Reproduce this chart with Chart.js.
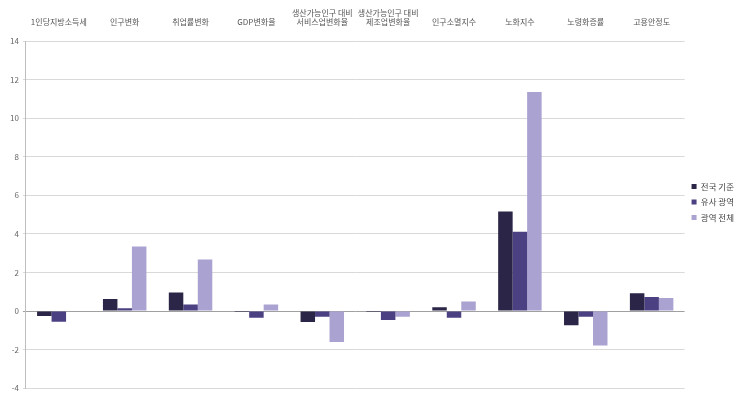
<!DOCTYPE html>
<html>
<head>
<meta charset="utf-8">
<script src="https://cdn.jsdelivr.net/npm/chart.js@4"></script>
<style>
    html, body { margin: 0; padding: 0; background: #fff; }
</style>
</head>
<body>
<canvas id="chart" width="750" height="397"></canvas>
<script>
// ─── Data ───
const categories = [
    '1인당지방소득세',
    '인구변화',
    '취업률변화',
    'GDP변화율',
    ['생산가능인구 대비', '서비스업변화율'],
    ['생산가능인구 대비', '제조업변화율'],
    '인구소멸지수',
    '노화지수',
    '노령화증률',
    '고용안정도',
];
const seriesNames = ['전국 기준', '유사 광역', '광역 전체'];
const nationalValues = [-0.25, 0.63, 0.97, -0.05, -0.56, -0.05, 0.2, 5.17, -0.73, 0.93];
const similarValues = [-0.55, 0.15, 0.34, -0.34, -0.3, -0.46, -0.34, 4.12, -0.3, 0.73];
const allValues = [0, 3.35, 2.68, 0.34, -1.6, -0.3, 0.5, 11.36, -1.78, 0.68];
const yTicks = [-4, -2, 0, 2, 4, 6, 8, 10, 12, 14];

const colors = ['#2b2547', '#4b4182', '#aaa2d0'];
const fontFamily = "'Noto Sans CJK KR', 'Noto Sans', sans-serif";

Chart.defaults.font.family = fontFamily;
Chart.defaults.color = '#666';

new Chart(document.getElementById('chart'), {
    type: 'bar',
    data: {
        labels: categories,
        datasets: [nationalValues, similarValues, allValues].map((values, i) => ({
            label: seriesNames[i],
            data: values,
            backgroundColor: colors[i],
            borderWidth: 0,
            categoryPercentage: 0.66,
            barPercentage: 1.0,
        })),
    },
    options: {
        responsive: false,
        animation: false,
        layout: { padding: { top: 2, left: 6, right: 6, bottom: -5 } },
        plugins: {
            legend: {
                position: 'right',
                labels: {
                    boxWidth: 5,
                    boxHeight: 5,
                    padding: 7,
                    font: { size: 8.5 },
                    color: '#444',
                },
            },
            tooltip: { enabled: false },
        },
        scales: {
            x: {
                position: 'top',
                grid: { display: false },
                border: { display: false },
                ticks: {
                    maxRotation: 0,
                    autoSkip: false,
                    font: { size: 8 },
                    color: '#555',
                    padding: 6,
                },
            },
            y: {
                min: yTicks[0],
                max: yTicks[yTicks.length - 1],
                afterBuildTicks: (axis) => {
                    axis.ticks = yTicks.map(v => ({ value: v }));
                },
                grid: {
                    color: (c) => c.tick && c.tick.value === 0 ? '#a0a0a0' : '#d9d9d9',
                    drawTicks: true,
                    tickLength: 3,
                },
                border: { display: true, color: '#bdbdbd' },
                ticks: {
                    font: { size: 8 },
                    color: '#666',
                    padding: 4,
                },
            },
        },
    },
});
</script>
</body>
</html>
